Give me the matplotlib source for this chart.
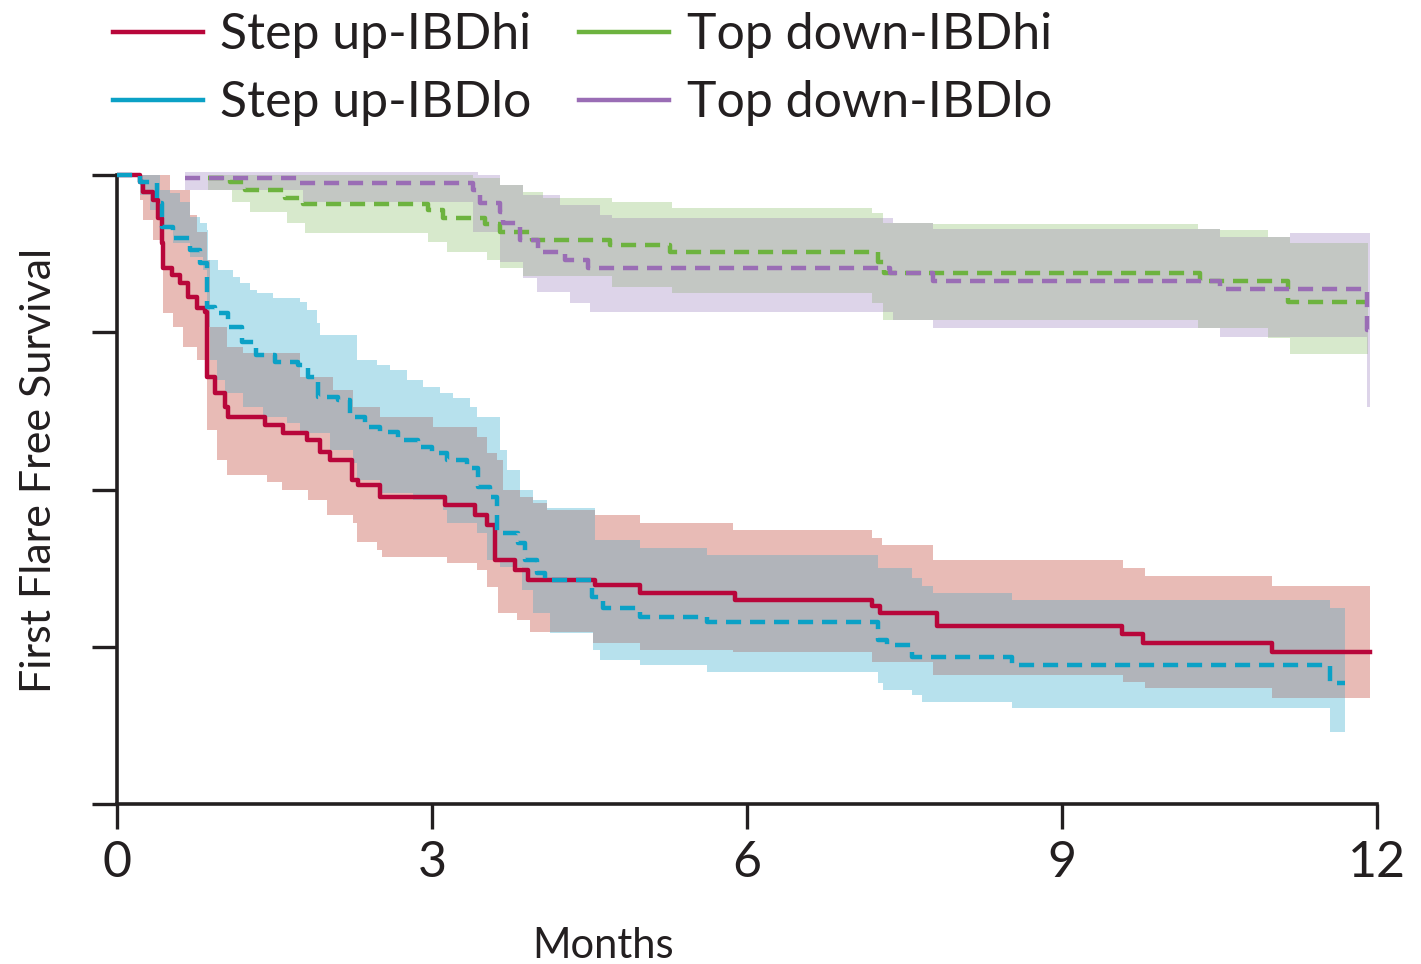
import numpy as np
import matplotlib
matplotlib.use("Agg")
import matplotlib.pyplot as plt
from matplotlib.lines import Line2D

plt.rcParams['font.family'] = ['Lato', 'DejaVu Sans']

INK = "#231F20"

# Kaplan-Meier step curves: time in months, first-flare-free survival.
# Each curve's last entry repeats the final value to mark the end of follow-up.
su_hi_t = [0, 0.219, 0.248, 0.343, 0.390, 0.429, 0.438, 0.524, 0.600, 0.676, 0.762, 0.838,
           0.857, 0.933, 1.029, 1.057, 1.410, 1.581, 1.810, 1.933, 2.029, 2.238, 2.295, 2.505,
           3.124, 3.410, 3.524, 3.600, 3.790, 3.914, 4.552, 4.981, 5.886, 7.190, 7.267, 7.810,
           9.571, 9.771, 11.000, 11.933]
su_hi_s = [1.0, 0.989, 0.973, 0.960, 0.932, 0.892, 0.852, 0.841, 0.828, 0.806, 0.789, 0.782,
           0.679, 0.653, 0.631, 0.615, 0.603, 0.590, 0.579, 0.560, 0.547, 0.515, 0.507, 0.488,
           0.475, 0.459, 0.444, 0.388, 0.372, 0.356, 0.348, 0.335, 0.324, 0.315, 0.304, 0.283,
           0.270, 0.256, 0.242, 0.242]

su_hi_up_t = [0, 0.505, 0.695, 0.762, 0.857, 0.886, 1.048, 1.200, 1.743, 2.057, 2.248, 2.505,
              3.010, 3.429, 3.524, 3.619, 3.676, 3.838, 3.962, 4.095, 4.552, 4.981, 5.867,
              7.190, 7.286, 7.771, 9.581, 9.790, 11.000, 11.933]
su_hi_up = [1.0, 0.976, 0.936, 0.909, 0.865, 0.758, 0.727, 0.717, 0.679, 0.658, 0.631, 0.615,
            0.599, 0.583, 0.558, 0.547, 0.499, 0.488, 0.479, 0.467, 0.459, 0.447, 0.436,
            0.423, 0.412, 0.388, 0.375, 0.362, 0.347, 0.347]

su_hi_lo_t = [0, 0.219, 0.248, 0.343, 0.438, 0.533, 0.629, 0.762, 0.857, 0.952, 1.048, 1.429,
              1.571, 1.819, 2.000, 2.248, 2.286, 2.476, 2.524, 3.143, 3.429, 3.524, 3.629,
              3.810, 3.933, 4.533, 4.981, 5.867, 7.190, 7.771, 9.581, 9.790, 11.000, 11.933]
su_hi_lo = [1.0, 0.960, 0.928, 0.897, 0.781, 0.758, 0.727, 0.706, 0.595, 0.547, 0.523, 0.512,
            0.499, 0.483, 0.459, 0.447, 0.417, 0.404, 0.393, 0.383, 0.372, 0.345, 0.304,
            0.293, 0.273, 0.256, 0.245, 0.242, 0.226, 0.205, 0.194, 0.184, 0.169, 0.169]

su_lo_t = [0, 0.219, 0.381, 0.429, 0.533, 0.695, 0.790, 0.857, 0.933, 1.057, 1.190, 1.324,
           1.505, 1.724, 1.819, 1.914, 2.105, 2.219, 2.362, 2.505, 2.676, 2.867, 3.000, 3.143,
           3.333, 3.438, 3.552, 3.619, 3.819, 3.886, 4.000, 4.076, 4.524, 4.629, 4.981, 5.619,
           7.248, 7.333, 7.571, 8.524, 11.552, 11.695]
su_lo_s = [1.0, 0.989, 0.955, 0.917, 0.900, 0.881, 0.860, 0.790, 0.781, 0.758, 0.734, 0.714,
           0.703, 0.698, 0.679, 0.647, 0.642, 0.615, 0.599, 0.591, 0.579, 0.568, 0.558, 0.547,
           0.534, 0.504, 0.488, 0.431, 0.415, 0.388, 0.367, 0.356, 0.329, 0.312, 0.297, 0.289,
           0.261, 0.253, 0.234, 0.221, 0.192, 0.192]

su_lo_up_t = [0, 0.410, 0.505, 0.600, 0.695, 0.790, 0.857, 0.867, 0.962, 1.105, 1.171, 1.267,
              1.333, 1.486, 1.743, 1.810, 1.905, 1.933, 2.286, 2.476, 2.600, 2.762, 2.914,
              3.076, 3.200, 3.362, 3.429, 3.648, 3.714, 3.838, 3.962, 4.095, 4.552, 4.981,
              5.619, 7.248, 7.571, 7.667, 7.771, 8.524, 11.552, 11.695]
su_lo_up = [1.0, 0.976, 0.971, 0.957, 0.933, 0.924, 0.913, 0.865, 0.849, 0.838, 0.828, 0.817,
            0.812, 0.804, 0.798, 0.785, 0.765, 0.746, 0.706, 0.698, 0.690, 0.674, 0.663,
            0.653, 0.645, 0.631, 0.615, 0.563, 0.531, 0.499, 0.483, 0.471, 0.420, 0.407,
            0.396, 0.375, 0.359, 0.347, 0.335, 0.324, 0.312, 0.312]

su_lo_lo_t = [0, 0.219, 0.314, 0.410, 0.533, 0.695, 0.819, 0.857, 0.886, 0.952, 1.029, 1.200,
              1.390, 1.619, 1.743, 2.029, 2.248, 2.286, 2.505, 2.819, 3.105, 3.143, 3.429,
              3.524, 3.648, 3.857, 3.962, 4.124, 4.533, 4.600, 4.981, 5.619, 7.248, 7.295,
              7.571, 7.667, 8.524, 11.552, 11.695]
su_lo_lo = [1.0, 0.968, 0.944, 0.917, 0.892, 0.870, 0.849, 0.758, 0.706, 0.674, 0.653, 0.631,
            0.615, 0.606, 0.590, 0.563, 0.542, 0.515, 0.494, 0.483, 0.467, 0.447, 0.431,
            0.388, 0.377, 0.340, 0.304, 0.272, 0.245, 0.229, 0.221, 0.210, 0.192, 0.181,
            0.173, 0.162, 0.153, 0.114, 0.114]

td_hi_t = [0.867, 1.076, 1.219, 1.600, 1.771, 2.962, 3.105, 3.505, 3.648, 3.952, 4.695, 5.267,
           7.248, 7.305, 10.314, 11.152, 11.914]
td_hi_s = [0.995, 0.989, 0.976, 0.963, 0.954, 0.944, 0.932, 0.922, 0.909, 0.897, 0.889, 0.878,
           0.862, 0.844, 0.831, 0.798, 0.798]

td_hi_up_t = [0.867, 3.390, 3.648, 3.867, 4.057, 4.714, 5.286, 7.190, 7.295, 7.771, 10.295,
              10.505, 10.962, 11.171, 11.914]
td_hi_up = [1.0, 0.995, 0.984, 0.973, 0.963, 0.957, 0.948, 0.940, 0.924, 0.922, 0.914,
            0.913, 0.901, 0.892, 0.892]

td_hi_lo_t = [0.867, 1.095, 1.267, 1.619, 1.790, 2.962, 3.143, 3.524, 3.648, 3.867, 4.714,
              5.286, 7.190, 7.295, 10.295, 10.962, 11.171, 11.914]
td_hi_lo = [0.976, 0.957, 0.941, 0.924, 0.908, 0.893, 0.878, 0.865, 0.852, 0.839, 0.822,
            0.812, 0.797, 0.769, 0.757, 0.741, 0.715, 0.715]

td_lo_t = [0.648, 1.743, 3.390, 3.457, 3.648, 3.676, 3.838, 4.010, 4.267, 4.486, 7.362, 7.771,
           10.505, 11.905, 11.933]
td_lo_s = [0.995, 0.987, 0.976, 0.955, 0.941, 0.924, 0.897, 0.878, 0.865, 0.852, 0.844, 0.831,
           0.819, 0.754, 0.754]

td_lo_up_t = [0.648, 3.438, 3.648, 3.867, 4.219, 4.600, 4.714, 7.390, 7.771, 10.505, 11.171,
              11.933]
td_lo_up = [1.005, 1.0, 0.984, 0.968, 0.952, 0.936, 0.932, 0.924, 0.914, 0.901, 0.908, 0.908]

td_lo_lo_t = [0.648, 1.771, 3.390, 3.648, 3.867, 4.000, 4.314, 4.505, 7.390, 7.771, 10.505,
              11.905, 11.933]
td_lo_lo = [0.976, 0.957, 0.909, 0.862, 0.836, 0.814, 0.797, 0.782, 0.769, 0.757, 0.742,
            0.631, 0.631]

x_ticks = [0, 3, 6, 9, 12]
y_ticks = [0, 0.25, 0.5, 0.75, 1.0]

series = [
    # label, line colour, band colour, dashed, curve, upper, lower
    ("Step up-IBDhi", "#B8063A", "#E8BBB6", False,
     (su_hi_t, su_hi_s), (su_hi_up_t, su_hi_up), (su_hi_lo_t, su_hi_lo)),
    ("Step up-IBDlo", "#0BA1C6", "#B7E1ED", True,
     (su_lo_t, su_lo_s), (su_lo_up_t, su_lo_up), (su_lo_lo_t, su_lo_lo)),
    ("Top down-IBDhi", "#6DB33F", "#D7E9CC", True,
     (td_hi_t, td_hi_s), (td_hi_up_t, td_hi_up), (td_hi_lo_t, td_hi_lo)),
    ("Top down-IBDlo", "#9A6DB5", "#DDD4E9", True,
     (td_lo_t, td_lo_s), (td_lo_up_t, td_lo_up), (td_lo_lo_t, td_lo_lo)),
]


def step_eval(t, v, grid):
    """Value of a post-step function on grid; NaN outside its time span."""
    t = np.asarray(t)
    v = np.asarray(v)
    idx = np.searchsorted(t, grid, side="right") - 1
    out = v[np.clip(idx, 0, len(v) - 1)].astype(float)
    out[(grid < t[0]) | (grid > t[-1])] = np.nan
    return out


def band_on_grid(up, lo, grid):
    return step_eval(*up, grid), step_eval(*lo, grid)


fig = plt.figure(figsize=(14.21, 9.64), dpi=100)
ax = fig.add_axes([117 / 1421, 160 / 964, 1260 / 1421, 1.02 * 629 / 964])

# confidence bands
for label, lc, bc, dashed, curve, up, lo in series:
    grid = np.union1d(up[0], lo[0])
    u, l = band_on_grid(up, lo, grid)
    ax.fill_between(grid, l, u, step="post", color=bc, lw=0, zorder=1)

# grey where the two bands of each strategy overlap
for a, b, gc in [(0, 1, "#B1B4BA"), (2, 3, "#C3C7C3")]:
    sa, sb = series[a], series[b]
    grid = np.union1d(np.union1d(sa[5][0], sa[6][0]), np.union1d(sb[5][0], sb[6][0]))
    ua, la = band_on_grid(sa[5], sa[6], grid)
    ub, lb = band_on_grid(sb[5], sb[6], grid)
    hi = np.fmin(ua, ub)
    low = np.fmax(la, lb)
    ok = ~np.isnan(ua) & ~np.isnan(ub)
    hi = np.where(ok, hi, np.nan)
    low = np.where(ok, low, np.nan)
    hi = np.where(hi > low, hi, low)
    ax.fill_between(grid, low, hi, step="post", color=gc, lw=0, zorder=2)

# survival curves
for label, lc, bc, dashed, curve, up, lo in series:
    kw = dict(dashes=(3.4, 2.0)) if dashed else {}
    ax.step(curve[0], curve[1], where="post", color=lc, lw=3.2, zorder=4, **kw)

ax.set_xlim(0, 12)
ax.set_ylim(0, 1.02)
ax.set_xticks(x_ticks)
ax.set_xticklabels([str(x) for x in x_ticks])
ax.set_yticks(y_ticks)
ax.set_yticklabels([])
for side in ("top", "right"):
    ax.spines[side].set_visible(False)
for side in ("left", "bottom"):
    ax.spines[side].set_linewidth(2.6)
    ax.spines[side].set_color(INK)
ax.spines["left"].set_bounds(0, 1)
ax.tick_params(axis="both", direction="out", length=18, width=2.4, color=INK)
ax.tick_params(axis="x", labelsize=36, labelcolor=INK, pad=8)

ax.set_ylabel("First Flare Free Survival", fontsize=31, color=INK)
ax.yaxis.set_label_coords(-0.047, 0.52)
ax.set_xlabel("Months", fontsize=30, color=INK)
ax.xaxis.set_label_coords(0.386, -0.192)

handles = [Line2D([], [], color=s[1], lw=3.2) for s in series]
fig.legend(handles, [s[0] for s in series], ncol=2, loc="upper left",
           bbox_to_anchor=(113 / 1421, 1 - 12 / 964), frameon=False, fontsize=36,
           handlelength=1.8, handletextpad=0.35, columnspacing=0.95,
           labelspacing=0.45, borderpad=0.0, borderaxespad=0.0, labelcolor=INK)

fig.savefig("out.png", dpi=100, facecolor="white")
